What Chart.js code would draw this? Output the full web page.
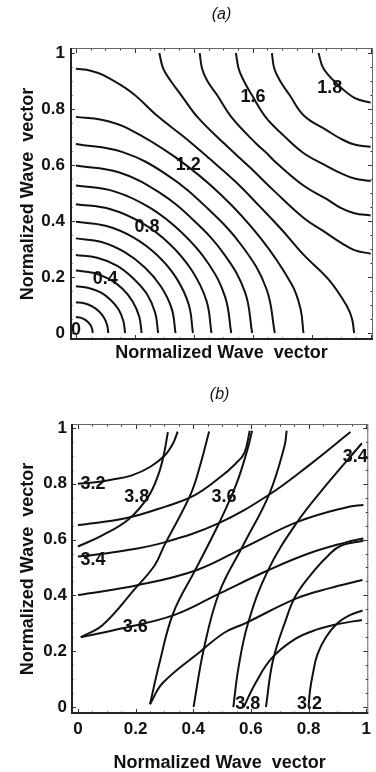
<!DOCTYPE html>
<html>
<head>
<meta charset="utf-8">
<script src="https://cdn.jsdelivr.net/npm/chart.js@4.4.1/dist/chart.umd.min.js"></script>
<style>
  html, body { margin: 0; padding: 0; background: #fff; }
  #wrap { position: relative; width: 376px; height: 772px; }
  #chartA { position: absolute; left: 0; top: 0; }
  #chartB { position: absolute; left: 0; top: 380px; }
</style>
</head>
<body>
<div id="wrap">
  <canvas id="chartA" width="376" height="380"></canvas>
  <canvas id="chartB" width="376" height="392"></canvas>
</div>
<script>
// ---- (a) contour lines, one array of [x, y] per level ----
const a01 = [[0,0.057],[0.015,0.055],[0.029,0.049],[0.040,0.040],[0.049,0.029],[0.055,0.015],[0.057,0]];
const a02 = [[0,0.11],[0.028,0.106],[0.055,0.095],[0.078,0.078],[0.095,0.055],[0.106,0.028],[0.11,0]];
const a03 = [[0,0.167],[0.043,0.161],[0.084,0.145],[0.118,0.118],[0.145,0.084],[0.161,0.043],[0.167,0]];
const a04 = [[0,0.223],[0.058,0.215],[0.112,0.193],[0.158,0.158],[0.193,0.112],[0.215,0.058],[0.223,0]];
const a05 = [[0,0.279],[0.072,0.269],[0.139,0.241],[0.195,0.195],[0.241,0.139],[0.269,0.072],[0.279,0]];
const a06 = [[0,0.338],[0.087,0.325],[0.167,0.288],[0.234,0.234],[0.288,0.167],[0.325,0.087],[0.338,0]];
const a07 = [[0,0.397],[0.101,0.383],[0.196,0.341],[0.277,0.277],[0.341,0.196],[0.383,0.101],[0.397,0]];
const a08 = [[0,0.46],[0.115,0.443],[0.224,0.393],[0.318,0.318],[0.393,0.224],[0.443,0.115],[0.46,0]];
const a09 = [[0,0.527],[0.13,0.506],[0.252,0.447],[0.359,0.359],[0.447,0.252],[0.506,0.13],[0.527,0]];
const a10 = [[0,0.598],[0.145,0.574],[0.28,0.504],[0.401,0.401],[0.504,0.28],[0.574,0.145],[0.598,0]];
const a11 = [[0,0.675],[0.159,0.646],[0.309,0.565],[0.446,0.446],[0.565,0.309],[0.646,0.159],[0.675,0]];
const a12 = [[0,0.772],[0.087,0.762],[0.174,0.732],[0.337,0.628],[0.493,0.493],[0.628,0.337],[0.732,0.174],[0.762,0.087],[0.772,0]];
const a13 = [[0,0.944],[0.05,0.937],[0.095,0.92],[0.188,0.86],[0.279,0.773],[0.367,0.70],[0.454,0.622],[0.541,0.541],
             [0.622,0.454],[0.70,0.367],[0.773,0.279],[0.86,0.188],[0.92,0.095],[0.937,0.05],[0.944,0]];
const a14 = [[0.283,1],[0.296,0.945],[0.322,0.9],[0.357,0.85],[0.412,0.772],[0.505,0.675],[0.591,0.591],
             [0.675,0.505],[0.772,0.412],[0.85,0.357],[0.9,0.322],[0.945,0.296],[1,0.283]];
const a15 = [[0.42,1],[0.428,0.945],[0.446,0.9],[0.479,0.85],[0.527,0.772],[0.613,0.675],[0.645,0.645],
             [0.675,0.613],[0.772,0.527],[0.85,0.479],[0.9,0.446],[0.945,0.428],[1,0.42]];
const a16 = [[0.543,1],[0.552,0.945],[0.57,0.9],[0.597,0.85],[0.643,0.772],[0.705,0.705],
             [0.772,0.643],[0.85,0.597],[0.9,0.57],[0.945,0.552],[1,0.543]];
const a17 = [[0.665,1],[0.673,0.945],[0.693,0.9],[0.725,0.85],[0.775,0.775],[0.85,0.725],[0.9,0.693],[0.945,0.673],[1,0.665]];
const a18 = [[0.823,1],[0.84,0.945],[0.888,0.888],[0.945,0.84],[1,0.823]];

const labelTextA = ['0', '0.4', '0.8', '1.2', '1.6', '1.8'];
const labelXA = [0.0, 0.10, 0.241, 0.381, 0.601, 0.861];
const labelYA = [0.01, 0.193, 0.377, 0.60, 0.844, 0.876];

// ---- (b) contour lines ----
const b1  = [[0,0.80],[0.06,0.805],[0.12,0.815],[0.187,0.83],[0.25,0.86],[0.30,0.90],[0.33,0.945],[0.346,0.987]];
const b1t = [[0.80,0],[0.805,0.06],[0.815,0.12],[0.83,0.187],[0.86,0.25],[0.90,0.30],[0.945,0.33],[0.987,0.346]];
const b2  = [[0,0.575],[0.086,0.616],[0.176,0.673],[0.244,0.754],[0.278,0.83],[0.297,0.9],[0.312,0.985]];
const b2t = [[0.575,0],[0.616,0.086],[0.673,0.176],[0.754,0.244],[0.83,0.278],[0.9,0.297],[0.985,0.312]];
const b3  = [[0,0.652],[0.165,0.676],[0.306,0.719],[0.402,0.757],[0.493,0.823],[0.545,0.87],[0.577,0.91],[0.596,0.99]];
const b3t = [[0.652,0],[0.676,0.165],[0.719,0.306],[0.757,0.402],[0.823,0.493],[0.87,0.545],[0.91,0.577],[0.99,0.596]];
const b4  = [[0,0.539],[0.142,0.557],[0.30,0.59],[0.487,0.658],[0.662,0.76],[0.80,0.865],[0.945,0.985]];
const b4t = [[0.539,0],[0.557,0.142],[0.59,0.30],[0.658,0.487],[0.76,0.662],[0.865,0.80],[0.985,0.945]];
const b5  = [[0,0.401],[0.21,0.437],[0.413,0.491],[0.583,0.575],[0.764,0.664],[0.933,0.716],[0.99,0.724]];
const b5t = [[0.401,0],[0.437,0.21],[0.491,0.413],[0.575,0.583],[0.664,0.764],[0.716,0.933],[0.724,0.99]];
const b6a  = [[0.01,0.25],[0.154,0.282],[0.335,0.33],[0.493,0.408],[0.662,0.491],[0.80,0.55],[0.93,0.59],[0.99,0.604]];
const b6at = [[0.25,0.01],[0.282,0.154],[0.33,0.335],[0.408,0.493],[0.491,0.662],[0.55,0.80],[0.59,0.93],[0.604,0.99]];
const b6b  = [[0.01,0.25],[0.086,0.294],[0.199,0.425],[0.267,0.509],[0.30,0.58],[0.39,0.76],[0.425,0.87],[0.455,0.987]];
const b6bt = [[0.25,0.01],[0.294,0.086],[0.425,0.199],[0.509,0.267],[0.58,0.30],[0.76,0.39],[0.87,0.425],[0.987,0.455]];

const labelTextB = ['3.2', '3.8', '3.6', '3.4', '3.4', '3.6', '3.8', '3.2'];
const labelXB = [0.052, 0.204, 0.507, 0.962, 0.052, 0.199, 0.589, 0.803];
const labelYB = [0.798, 0.754, 0.754, 0.897, 0.527, 0.288, 0.012, 0.012];

// ---- axes ----
const tickVals = [0, 0.2, 0.4, 0.6, 0.8, 1];
const tickText = ['0', '0.2', '0.4', '0.6', '0.8', '1'];
const minorVals = [0.05, 0.1, 0.15, 0.25, 0.3, 0.35, 0.45, 0.5, 0.55, 0.65, 0.7, 0.75, 0.85, 0.9, 0.95];

const FONT = '"Liberation Sans", Arial, Helvetica, sans-serif';
const INK = '#111';

const contourDecor = {
    id: 'contourDecor',
    afterDatasetsDraw(chart, args, opts) {
        const ctx = chart.ctx;
        const {left, right, top, bottom} = chart.chartArea;
        const x = chart.scales.x, y = chart.scales.y;
        ctx.save();

        // inward tick marks on all four sides
        ctx.strokeStyle = '#333';
        ctx.lineWidth = 1;
        ctx.beginPath();
        const mark = (v, len) => {
            const px = Math.round(x.getPixelForValue(v)) + 0.5;
            const py = Math.round(y.getPixelForValue(v)) + 0.5;
            ctx.moveTo(px, bottom); ctx.lineTo(px, bottom - len);
            ctx.moveTo(px, top); ctx.lineTo(px, top + len);
            ctx.moveTo(left, py); ctx.lineTo(left + len, py);
            ctx.moveTo(right, py); ctx.lineTo(right - len, py);
        };
        tickVals.forEach(v => mark(v, 5));
        minorVals.forEach(v => mark(v, 2.5));
        ctx.stroke();

        // frame: light on top / right, heavier on left / bottom
        ctx.strokeStyle = '#666';
        ctx.lineWidth = 1;
        ctx.beginPath();
        ctx.moveTo(left, top + 0.5); ctx.lineTo(right, top + 0.5);
        ctx.moveTo(right - 0.5, top); ctx.lineTo(right - 0.5, bottom);
        ctx.stroke();
        ctx.strokeStyle = '#222';
        ctx.lineWidth = 2;
        ctx.beginPath();
        ctx.moveTo(left + 1, top); ctx.lineTo(left + 1, bottom);
        ctx.moveTo(left, bottom - 1); ctx.lineTo(right, bottom - 1);
        ctx.stroke();

        // contour labels
        ctx.fillStyle = INK;
        ctx.font = 'bold 18px ' + FONT;
        ctx.textAlign = 'center';
        ctx.textBaseline = 'middle';
        opts.texts.forEach((t, i) => {
            ctx.fillText(t, x.getPixelForValue(opts.xs[i]), y.getPixelForValue(opts.ys[i]));
        });

        // panel title
        ctx.font = 'italic 16px ' + FONT;
        ctx.fillText(opts.title, (left + right) / 2, 15);
        ctx.restore();
    }
};

function makeChart(id, curves, cfg) {
    const datasets = curves.map(c => ({
        data: c.map(p => ({x: p[0], y: p[1]})),
        showLine: true,
        borderColor: INK,
        borderWidth: 2,
        pointRadius: 0,
        tension: 0.4,
        fill: false
    }));
    const titleFont = {family: FONT, size: 18, weight: 'bold', lineHeight: 1};
    const tickFont = {family: FONT, size: 17, weight: 'bold'};
    return new Chart(document.getElementById(id), {
        type: 'scatter',
        data: {datasets: datasets},
        plugins: [contourDecor],
        options: {
            responsive: false,
            animation: false,
            layout: {padding: {left: 0, right: cfg.padRight, top: cfg.padTop, bottom: 0}},
            plugins: {
                legend: {display: false},
                tooltip: {enabled: false},
                contourDecor: {texts: cfg.texts, xs: cfg.xs, ys: cfg.ys, title: cfg.title}
            },
            scales: {
                x: {
                    type: 'linear',
                    min: cfg.xMin, max: cfg.xMax,
                    grid: {display: false, drawTicks: false},
                    border: {display: false},
                    afterBuildTicks: s => { s.ticks = tickVals.map(v => ({value: v})); },
                    ticks: {
                        display: cfg.showX,
                        padding: 5,
                        color: INK,
                        font: tickFont,
                        callback: (v, i) => tickText[i]
                    },
                    title: {
                        display: true,
                        text: 'Normalized Wave  vector',
                        color: INK,
                        font: titleFont,
                        padding: {top: 0, bottom: cfg.xTitlePad}
                    },
                    afterFit: s => { s.height = cfg.xHeight; }
                },
                y: {
                    type: 'linear',
                    min: cfg.yMin, max: cfg.yMax,
                    grid: {display: false, drawTicks: false},
                    border: {display: false},
                    afterBuildTicks: s => { s.ticks = tickVals.map(v => ({value: v})); },
                    ticks: {
                        padding: cfg.yTickPad,
                        color: INK,
                        font: tickFont,
                        callback: (v, i) => tickText[i]
                    },
                    title: {
                        display: true,
                        text: 'Normalized Wave  vector',
                        color: INK,
                        font: titleFont,
                        padding: {top: 19, bottom: 0}
                    },
                    afterFit: s => { s.width = cfg.yWidth; }
                }
            }
        }
    });
}

makeChart('chartA',
    [a01, a02, a03, a04, a05, a06, a07, a08, a09, a10, a11, a12, a13, a14, a15, a16, a17, a18],
    {
        title: '(a)', texts: labelTextA, xs: labelXA, ys: labelYA,
        xMin: -0.02, xMax: 1.008, yMin: -0.025, yMax: 1.018,
        padTop: 48, padRight: 3, yWidth: 70, xHeight: 40, xTitlePad: 18,
        showX: false, yTickPad: 5
    });

makeChart('chartB',
    [b1, b1t, b2, b2t, b3, b3t, b4, b4t, b5, b5t, b6a, b6at, b6b, b6bt],
    {
        title: '(b)', texts: labelTextB, xs: labelXB, ys: labelYB,
        xMin: -0.024, xMax: 1.007, yMin: -0.025, yMax: 1.014,
        padTop: 44, padRight: 2, yWidth: 71, xHeight: 58, xTitlePad: 0,
        showX: true, yTickPad: 4
    });
</script>
</body>
</html>
